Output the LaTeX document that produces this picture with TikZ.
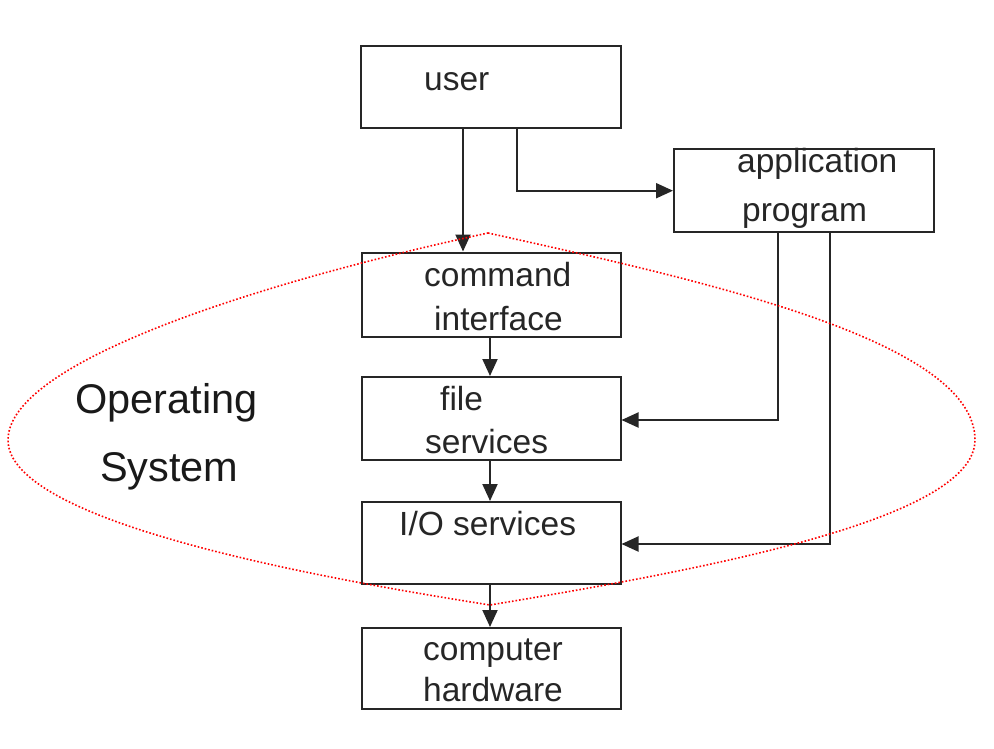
\documentclass[tikz,border=0pt]{standalone}
\usepackage{fontspec}
\setmainfont{Liberation Sans}
\usetikzlibrary{arrows.meta}
\begin{document}
\begin{tikzpicture}[x=1pt,y=-1pt,
  box/.style={draw=black!85,line width=2pt,rectangle,inner sep=0pt},
  lbl/.style={anchor=base west,inner sep=0pt,text=black!85,font=\fontsize{33.5}{40}\selectfont},
  biglbl/.style={anchor=base west,inner sep=0pt,text=black!90,font=\fontsize{41.5}{48}\selectfont},
  conn/.style={draw=black!85,line width=2pt},
  arr/.style={conn,-{Triangle[length=17pt,width=15pt]}},
  osline/.style={draw=red,line width=1.6pt,dotted}]
\useasboundingbox (0,0) rectangle (994,748);
% boxes
\node[box,minimum width=260pt,minimum height=82pt] (user) at (491,87) {};
\node[box,minimum width=260pt,minimum height=83pt] (app) at (804,190.5) {};
\node[box,minimum width=259pt,minimum height=84pt] (cmd) at (491,294.5) {};
\node[box,minimum width=259pt,minimum height=83pt] (file) at (491,418.5) {};
\node[box,minimum width=259pt,minimum height=82pt] (io) at (491,543) {};
\node[box,minimum width=259pt,minimum height=81pt] (hw) at (491,668.5) {};
% texts
\node[lbl] (tuser) at (424,90) {user};
\node[lbl] (tapp1) at (737,172) {application};
\node[lbl] (tapp2) at (742,221.5) {program};
\node[lbl] (tcmd1) at (424,286.7) {command};
\node[lbl] (tcmd2) at (434,330) {interface};
\node[lbl] (tfile1) at (440,410) {file};
\node[lbl] (tfile2) at (425,453) {services};
\node[lbl] (tio) at (399,535) {I/O services};
\node[lbl] (thw1) at (423,660) {computer};
\node[lbl] (thw2) at (423,701.7) {hardware};
\node[biglbl] (tos1) at (75,413) {Operating};
\node[biglbl] (tos2) at (100,481) {System};
% connectors
\coordinate (c1) at (517,190.7);
\coordinate (c2) at (778,420);
\coordinate (c3) at (830,544);
\draw[arr] (user.south -| 463,0) -- (cmd.north -| 463,0);
\draw[arr] (user.south -| c1) -- (c1) -- (app.west |- c1);
\draw[arr] (cmd.south -| 490,0) -- (file.north -| 490,0);
\draw[arr] (file.south -| 490,0) -- (io.north -| 490,0);
\draw[arr] (io.south -| 490,0) -- (hw.north -| 490,0);
\draw[arr] (app.south -| c2) -- (c2) -- (file.east |- c2);
\draw[arr] (app.south -| c3) -- (c3) -- (io.east |- c3);
% operating system boundary
\draw[osline] (488,233) .. controls (700,280) and (975,340) .. (975,440)
  .. controls (975,520) and (700,570) .. (490,605)
  .. controls (300,575) and (8,520) .. (8,440)
  .. controls (8,360) and (270,280) .. (488,233);
\end{tikzpicture}
\end{document}
